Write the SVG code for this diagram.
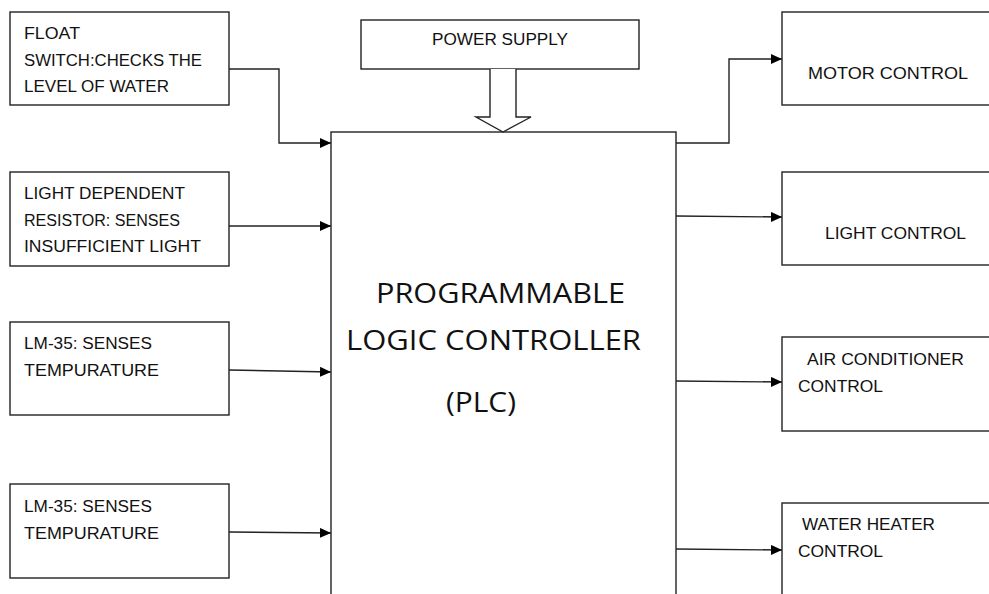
<svg xmlns="http://www.w3.org/2000/svg" width="989" height="594" viewBox="0 0 989 594">
<defs>
<marker id="ah" markerWidth="12" markerHeight="10" refX="11" refY="5" orient="auto" markerUnits="userSpaceOnUse">
<path d="M0,0 L11,5 L0,10 Z" fill="#000"/>
</marker>
<style>
.box{fill:#fff;stroke:#222;stroke-width:1.4}
.t{font-family:"Liberation Sans",Arial,sans-serif;font-size:16px;fill:#111}
.big{font-family:"Open Sans","Liberation Sans",sans-serif;font-size:27px;fill:#111}
.c{fill:none;stroke:#222;stroke-width:1.4;marker-end:url(#ah)}
</style>
</defs>
<rect width="989" height="594" fill="#fff"/>
<g id="connectors">
<path class="c" d="M229,69 H279 V143 H331"/>
<path class="c" d="M229,226 H331"/>
<path class="c" d="M229,370 L331,372"/>
<path class="c" d="M229,532 L331,533"/>
<path class="c" d="M676,143 H729 V59 H782"/>
<path class="c" d="M676,216 L782,217"/>
<path class="c" d="M676,381 L782,382"/>
<path class="c" d="M676,549 L782,550"/>
</g>
<g id="plc">
<rect class="box" x="331" y="132" width="345" height="480"/>
<text class="big" x="376" y="303" textLength="249" lengthAdjust="spacingAndGlyphs">PROGRAMMABLE</text>
<text class="big" x="346" y="350" textLength="295" lengthAdjust="spacingAndGlyphs">LOGIC   CONTROLLER</text>
<text class="big" x="446" y="412" textLength="70" lengthAdjust="spacingAndGlyphs">(PLC)</text>
</g>
<g id="power">
<rect class="box" x="361" y="20" width="278" height="49"/>
<text class="t" x="432" y="45" textLength="136" lengthAdjust="spacingAndGlyphs">POWER SUPPLY</text>
<path d="M490,69 V117 H476 L503,132 L531,117 H516 V69" fill="#fff" stroke="#222" stroke-width="1.4"/>
</g>
<g id="float">
<rect class="box" x="10" y="12" width="219" height="93"/>
<text class="t" x="24" y="39" textLength="56" lengthAdjust="spacingAndGlyphs">FLOAT</text>
<text class="t" x="24" y="66" textLength="178" lengthAdjust="spacingAndGlyphs">SWITCH:CHECKS THE</text>
<text class="t" x="24" y="92" textLength="145" lengthAdjust="spacingAndGlyphs">LEVEL OF WATER</text>
</g>
<g id="ldr">
<rect class="box" x="10" y="172" width="219" height="94"/>
<text class="t" x="24" y="199" textLength="161" lengthAdjust="spacingAndGlyphs">LIGHT DEPENDENT</text>
<text class="t" x="24" y="226" textLength="156" lengthAdjust="spacingAndGlyphs">RESISTOR: SENSES</text>
<text class="t" x="24" y="252" textLength="177" lengthAdjust="spacingAndGlyphs">INSUFFICIENT LIGHT</text>
</g>
<g id="lm35a">
<rect class="box" x="10" y="322" width="219" height="93"/>
<text class="t" x="24" y="349" textLength="128" lengthAdjust="spacingAndGlyphs">LM-35: SENSES</text>
<text class="t" x="24" y="376" textLength="135" lengthAdjust="spacingAndGlyphs">TEMPURATURE</text>
</g>
<g id="lm35b">
<rect class="box" x="10" y="484" width="219" height="94"/>
<text class="t" x="24" y="512" textLength="128" lengthAdjust="spacingAndGlyphs">LM-35: SENSES</text>
<text class="t" x="24" y="539" textLength="135" lengthAdjust="spacingAndGlyphs">TEMPURATURE</text>
</g>
<g id="motor">
<rect class="box" x="782" y="12" width="220" height="93"/>
<text class="t" x="808" y="79" textLength="160" lengthAdjust="spacingAndGlyphs">MOTOR CONTROL</text>
</g>
<g id="light">
<rect class="box" x="782" y="172" width="220" height="93"/>
<text class="t" x="825" y="239" textLength="141" lengthAdjust="spacingAndGlyphs">LIGHT CONTROL</text>
</g>
<g id="ac">
<rect class="box" x="782" y="337" width="220" height="94"/>
<text class="t" x="807" y="365" textLength="157" lengthAdjust="spacingAndGlyphs">AIR CONDITIONER</text>
<text class="t" x="798" y="392" textLength="85" lengthAdjust="spacingAndGlyphs">CONTROL</text>
</g>
<g id="heater">
<rect class="box" x="782" y="503" width="220" height="110"/>
<text class="t" x="802" y="530" textLength="133" lengthAdjust="spacingAndGlyphs">WATER HEATER</text>
<text class="t" x="798" y="557" textLength="85" lengthAdjust="spacingAndGlyphs">CONTROL</text>
</g>
</svg>
